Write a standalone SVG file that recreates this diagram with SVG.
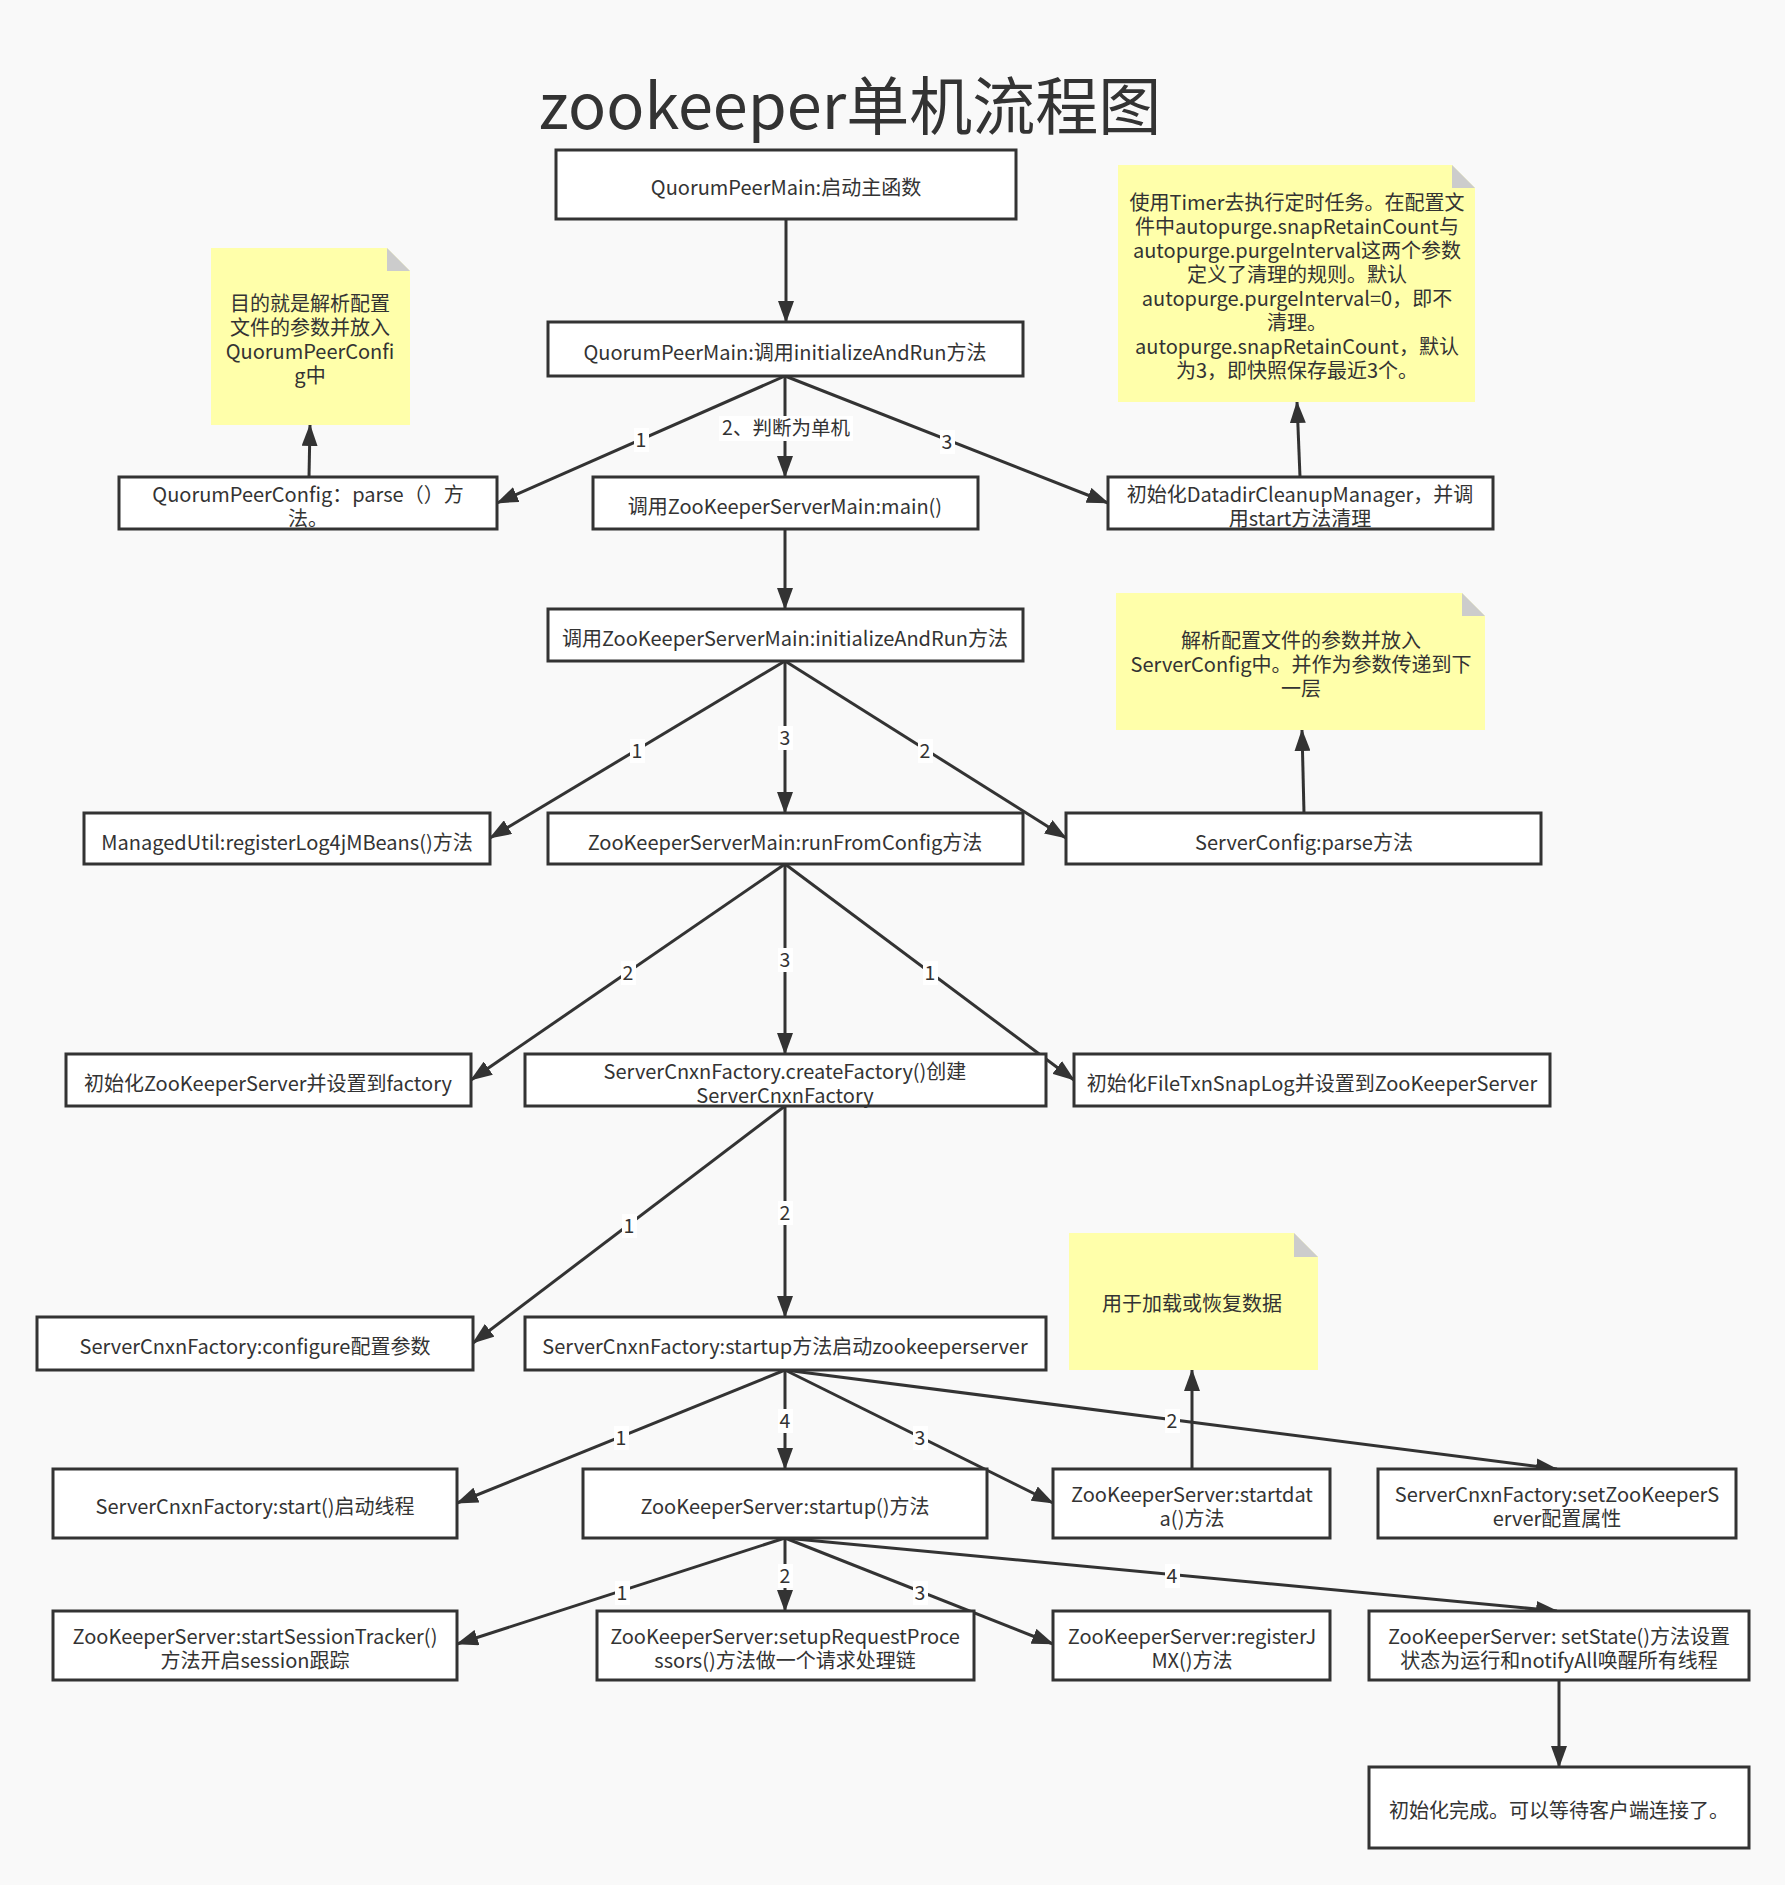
<svg xmlns="http://www.w3.org/2000/svg" width="1785" height="1885" viewBox="0 0 1785 1885">
<style>
.bx{fill:#fff;stroke:#333;stroke-width:3}
.t{font-family:"Noto Sans CJK SC","Noto Sans",sans-serif;font-size:20px;fill:#333;text-anchor:middle}
.nt{fill:#ffffaa}
.fold{fill:#cccccc}
.e{stroke:#333;stroke-width:3;fill:none;marker-end:url(#arr)}
.lb{fill:#fff}
.lt{font-family:"Noto Sans CJK SC","Noto Sans",sans-serif;font-size:19.5px;fill:#333;text-anchor:middle}
</style>
<defs>
<marker id="arr" markerWidth="22" markerHeight="16" refX="21" refY="8" orient="auto" markerUnits="userSpaceOnUse">
<path d="M0,0 L22,8 L0,16 Z" fill="#333"/>
</marker>
</defs>
<rect width="1785" height="1885" fill="#f9f9f9"/>
<text x="850" y="129" style="font-family:'Noto Sans CJK SC','Noto Sans',sans-serif;font-size:63px;fill:#333;text-anchor:middle">zookeeper单机流程图</text>

<g id="connectors">
<path class="e" d="M786,219 L786,322"/>
<path class="e" d="M785,376 L497,503"/>
<path class="e" d="M785,376 L785,477"/>
<path class="e" d="M785,376 L1108,503"/>
<path class="e" d="M309,477 L310,425"/>
<path class="e" d="M1300,477 L1297,402"/>
<path class="e" d="M785,529 L785,609"/>
<path class="e" d="M785,661 L490,838"/>
<path class="e" d="M785,661 L785,813"/>
<path class="e" d="M785,661 L1066,838"/>
<path class="e" d="M1304,813 L1302,730"/>
<path class="e" d="M785,864 L471,1080"/>
<path class="e" d="M785,864 L785,1054"/>
<path class="e" d="M785,864 L1074,1080"/>
<path class="e" d="M785,1106 L473,1343"/>
<path class="e" d="M785,1106 L785,1317"/>
<path class="e" d="M785,1370 L457,1503"/>
<path class="e" d="M785,1370 L785,1469"/>
<path class="e" d="M785,1370 L1053,1503"/>
<path class="e" d="M785,1370 L1557,1469"/>
<path class="e" d="M1192,1469 L1192,1370"/>
<path class="e" d="M785,1538 L457,1644"/>
<path class="e" d="M785,1538 L785,1611"/>
<path class="e" d="M785,1538 L1053,1644"/>
<path class="e" d="M785,1538 L1557,1611"/>
<path class="e" d="M1559,1680 L1559,1767"/>
<g id="labels">
<rect class="lb" x="634" y="428" width="15" height="24"/><text class="lt" x="641" y="447">1</text>
<rect class="lb" x="719" y="416" width="134" height="25"/><text class="lt" x="786" y="435">2、判断为单机</text>
<rect class="lb" x="940" y="430" width="15" height="24"/><text class="lt" x="947" y="449">3</text>
<rect class="lb" x="630" y="739" width="15" height="24"/><text class="lt" x="637" y="758">1</text>
<rect class="lb" x="778" y="726" width="15" height="24"/><text class="lt" x="785" y="745">3</text>
<rect class="lb" x="918" y="739" width="15" height="24"/><text class="lt" x="925" y="758">2</text>
<rect class="lb" x="621" y="961" width="15" height="24"/><text class="lt" x="628" y="980">2</text>
<rect class="lb" x="778" y="948" width="15" height="24"/><text class="lt" x="785" y="967">3</text>
<rect class="lb" x="923" y="961" width="15" height="24"/><text class="lt" x="930" y="980">1</text>
<rect class="lb" x="622" y="1214" width="15" height="24"/><text class="lt" x="629" y="1233">1</text>
<rect class="lb" x="778" y="1201" width="15" height="24"/><text class="lt" x="785" y="1220">2</text>
<rect class="lb" x="614" y="1426" width="15" height="24"/><text class="lt" x="621" y="1445">1</text>
<rect class="lb" x="778" y="1409" width="15" height="24"/><text class="lt" x="785" y="1428">4</text>
<rect class="lb" x="913" y="1426" width="15" height="24"/><text class="lt" x="920" y="1445">3</text>
<rect class="lb" x="1165" y="1409" width="15" height="24"/><text class="lt" x="1172" y="1428">2</text>
<rect class="lb" x="615" y="1581" width="15" height="24"/><text class="lt" x="622" y="1600">1</text>
<rect class="lb" x="778" y="1564" width="15" height="24"/><text class="lt" x="785" y="1583">2</text>
<rect class="lb" x="913" y="1581" width="15" height="24"/><text class="lt" x="920" y="1600">3</text>
<rect class="lb" x="1165" y="1564" width="15" height="24"/><text class="lt" x="1172" y="1583">4</text>
</g>
</g>

<g id="note1"><path class="nt" d="M211,248 H387 L410,271 V425 H211 Z"/><path class="fold" d="M387,248 L410,271 H387 Z"/>
<text class="t" x="310" y="311">目的就是解析配置</text><text class="t" x="310" y="335">文件的参数并放入</text><text class="t" x="310" y="359">QuorumPeerConfi</text><text class="t" x="310" y="383">g中</text></g>

<g id="note2"><path class="nt" d="M1118,165 H1452 L1475,188 V402 H1118 Z"/><path class="fold" d="M1452,165 L1475,188 H1452 Z"/>
<text class="t" x="1297" y="210">使用Timer去执行定时任务。在配置文</text>
<text class="t" x="1297" y="234">件中autopurge.snapRetainCount与</text>
<text class="t" x="1297" y="258">autopurge.purgeInterval这两个参数</text>
<text class="t" x="1297" y="282">定义了清理的规则。默认</text>
<text class="t" x="1297" y="306">autopurge.purgeInterval=0，即不</text>
<text class="t" x="1297" y="330">清理。</text>
<text class="t" x="1297" y="354">autopurge.snapRetainCount，默认</text>
<text class="t" x="1297" y="378">为3，即快照保存最近3个。</text></g>

<g id="note3"><path class="nt" d="M1116,593 H1462 L1485,616 V730 H1116 Z"/><path class="fold" d="M1462,593 L1485,616 H1462 Z"/>
<text class="t" x="1301" y="648">解析配置文件的参数并放入</text>
<text class="t" x="1301" y="672">ServerConfig中。并作为参数传递到下</text>
<text class="t" x="1301" y="696">一层</text></g>

<g id="note4"><path class="nt" d="M1069,1233 H1294 L1318,1257 V1370 H1069 Z"/><path class="fold" d="M1294,1233 L1318,1257 H1294 Z"/>
<text class="t" x="1192" y="1311">用于加载或恢复数据</text></g>

<g id="b1"><rect class="bx" x="556" y="150" width="460" height="69"/><text class="t" x="786" y="195">QuorumPeerMain:启动主函数</text></g>
<g id="b2"><rect class="bx" x="548" y="322" width="475" height="54"/><text class="t" x="785" y="360">QuorumPeerMain:调用initializeAndRun方法</text></g>
<g id="b3"><rect class="bx" x="119" y="477" width="378" height="52"/><text class="t" x="308" y="502">QuorumPeerConfig：parse（）方</text><text class="t" x="308" y="526">法。</text></g>
<g id="b4"><rect class="bx" x="593" y="477" width="385" height="52"/><text class="t" x="785" y="514">调用ZooKeeperServerMain:main()</text></g>
<g id="b5"><rect class="bx" x="1108" y="477" width="385" height="52"/><text class="t" x="1300" y="502">初始化DatadirCleanupManager，并调</text><text class="t" x="1300" y="526">用start方法清理</text></g>
<g id="b6"><rect class="bx" x="548" y="609" width="475" height="52"/><text class="t" x="785" y="646">调用ZooKeeperServerMain:initializeAndRun方法</text></g>
<g id="b7"><rect class="bx" x="84" y="813" width="406" height="51"/><text class="t" x="287" y="850">ManagedUtil:registerLog4jMBeans()方法</text></g>
<g id="b8"><rect class="bx" x="548" y="813" width="475" height="51"/><text class="t" x="785" y="850">ZooKeeperServerMain:runFromConfig方法</text></g>
<g id="b9"><rect class="bx" x="1066" y="813" width="475" height="51"/><text class="t" x="1304" y="850">ServerConfig:parse方法</text></g>
<g id="b10"><rect class="bx" x="66" y="1054" width="405" height="52"/><text class="t" x="268" y="1091">初始化ZooKeeperServer并设置到factory</text></g>
<g id="b11"><rect class="bx" x="525" y="1054" width="521" height="52"/><text class="t" x="785" y="1079">ServerCnxnFactory.createFactory()创建</text><text class="t" x="785" y="1103">ServerCnxnFactory</text></g>
<g id="b12"><rect class="bx" x="1074" y="1054" width="476" height="52"/><text class="t" x="1312" y="1091">初始化FileTxnSnapLog并设置到ZooKeeperServer</text></g>
<g id="b13"><rect class="bx" x="37" y="1317" width="436" height="53"/><text class="t" x="255" y="1354">ServerCnxnFactory:configure配置参数</text></g>
<g id="b14"><rect class="bx" x="525" y="1317" width="521" height="53"/><text class="t" x="785" y="1354">ServerCnxnFactory:startup方法启动zookeeperserver</text></g>
<g id="b15"><rect class="bx" x="53" y="1469" width="404" height="69"/><text class="t" x="255" y="1514">ServerCnxnFactory:start()启动线程</text></g>
<g id="b16"><rect class="bx" x="583" y="1469" width="404" height="69"/><text class="t" x="785" y="1514">ZooKeeperServer:startup()方法</text></g>
<g id="b17"><rect class="bx" x="1053" y="1469" width="277" height="69"/><text class="t" x="1192" y="1502">ZooKeeperServer:startdat</text><text class="t" x="1192" y="1526">a()方法</text></g>
<g id="b18"><rect class="bx" x="1378" y="1469" width="358" height="69"/><text class="t" x="1557" y="1502">ServerCnxnFactory:setZooKeeperS</text><text class="t" x="1557" y="1526">erver配置属性</text></g>
<g id="b19"><rect class="bx" x="53" y="1611" width="404" height="69"/><text class="t" x="255" y="1644">ZooKeeperServer:startSessionTracker()</text><text class="t" x="255" y="1668">方法开启session跟踪</text></g>
<g id="b20"><rect class="bx" x="597" y="1611" width="377" height="69"/><text class="t" x="785" y="1644">ZooKeeperServer:setupRequestProce</text><text class="t" x="785" y="1668">ssors()方法做一个请求处理链</text></g>
<g id="b21"><rect class="bx" x="1053" y="1611" width="277" height="69"/><text class="t" x="1192" y="1644">ZooKeeperServer:registerJ</text><text class="t" x="1192" y="1668">MX()方法</text></g>
<g id="b22"><rect class="bx" x="1369" y="1611" width="380" height="69"/><text class="t" x="1559" y="1644">ZooKeeperServer: setState()方法设置</text><text class="t" x="1559" y="1668">状态为运行和notifyAll唤醒所有线程</text></g>
<g id="b23"><rect class="bx" x="1369" y="1767" width="380" height="81"/><text class="t" x="1559" y="1818">初始化完成。可以等待客户端连接了。</text></g>
</svg>
